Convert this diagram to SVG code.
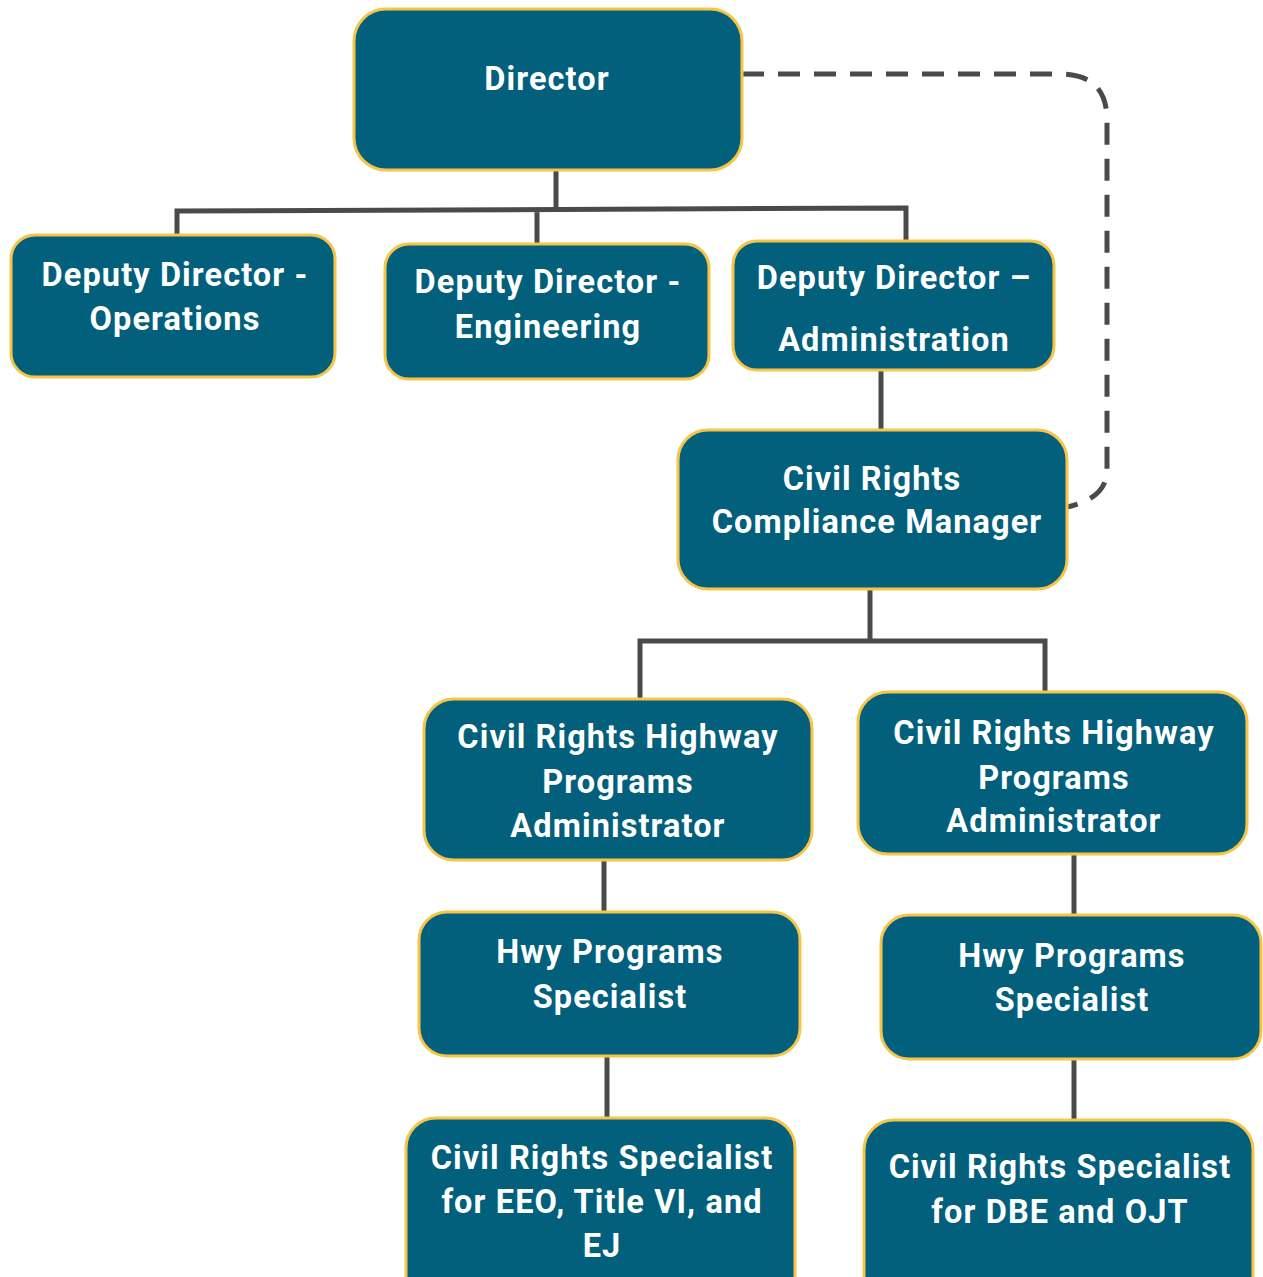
<svg xmlns="http://www.w3.org/2000/svg" width="1263" height="1277" viewBox="0 0 1263 1277">
<style>
.box{fill:#02607D;stroke:#F7C546;stroke-width:3}
.t{font-family:Roboto,"Liberation Sans",sans-serif;font-weight:bold;font-size:32.5px;letter-spacing:1.1px;fill:#ffffff;text-anchor:middle}
.c{fill:none;stroke:#4A4A4A;stroke-width:5}
.d{fill:none;stroke:#4A4A4A;stroke-width:5;stroke-dasharray:22 14}
</style>
<rect width="1263" height="1277" fill="#ffffff"/>
<g id="connectors">
<path class="c" d="M556 170V210M177 235V211L906 208V241M537 209V244"/>
<path class="c" d="M881 370V430"/>
<path class="c" d="M870 589V641M640 699V641H1045V692"/>
<path class="c" d="M604 860V912"/>
<path class="c" d="M1074 854V915"/>
<path class="c" d="M607 1056V1118"/>
<path class="c" d="M1074 1059V1120"/>
<path class="d" d="M742 74H1060Q1107 74 1107 120V470Q1107 500 1062 508"/>
</g>
<g id="director"><rect class="box" x="354" y="9" width="388" height="161" rx="32"/><text class="t" x="547" y="90">Director</text></g>
<g id="dd-ops"><rect class="box" x="11" y="235" width="324" height="142" rx="24"/><text class="t" x="175" y="286">Deputy Director -</text><text class="t" x="175" y="330">Operations</text></g>
<g id="dd-eng"><rect class="box" x="385" y="244" width="324" height="135" rx="24"/><text class="t" x="548" y="293">Deputy Director -</text><text class="t" x="548" y="338">Engineering</text></g>
<g id="dd-admin"><rect class="box" x="733" y="241" width="321" height="129" rx="24"/><text class="t" x="894" y="289">Deputy Director –</text><text class="t" x="894" y="351">Administration</text></g>
<g id="crcm"><rect class="box" x="678" y="430" width="389" height="159" rx="30"/><text class="t" x="872" y="490">Civil Rights</text><text class="t" x="877" y="533">Compliance Manager</text></g>
<g id="crhpa-left"><rect class="box" x="424" y="699" width="388" height="161" rx="30"/><text class="t" x="618" y="748">Civil Rights Highway</text><text class="t" x="618" y="793">Programs</text><text class="t" x="618" y="837">Administrator</text></g>
<g id="crhpa-right"><rect class="box" x="858" y="692" width="389" height="162" rx="30"/><text class="t" x="1054" y="744">Civil Rights Highway</text><text class="t" x="1054" y="789">Programs</text><text class="t" x="1054" y="832">Administrator</text></g>
<g id="hwy-left"><rect class="box" x="419" y="912" width="381" height="144" rx="28"/><text class="t" x="610" y="963">Hwy Programs</text><text class="t" x="610" y="1008">Specialist</text></g>
<g id="hwy-right"><rect class="box" x="881" y="915" width="380" height="144" rx="28"/><text class="t" x="1072" y="967">Hwy Programs</text><text class="t" x="1072" y="1011">Specialist</text></g>
<g id="crs-left"><rect class="box" x="406" y="1118" width="389" height="190" rx="30"/><text class="t" x="602" y="1169">Civil Rights Specialist</text><text class="t" x="602" y="1213">for EEO, Title VI, and</text><text class="t" x="602" y="1257">EJ</text></g>
<g id="crs-right"><rect class="box" x="864" y="1120" width="389" height="190" rx="30"/><text class="t" x="1060" y="1178">Civil Rights Specialist</text><text class="t" x="1060" y="1223">for DBE and OJT</text></g>
</svg>
